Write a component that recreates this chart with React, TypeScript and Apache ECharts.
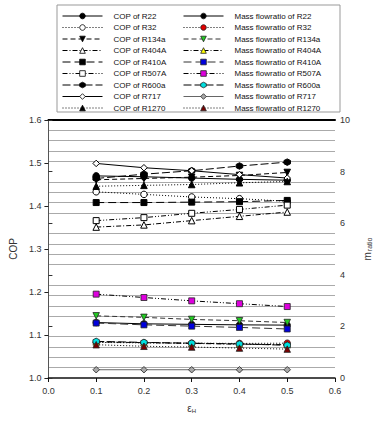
import React, { useEffect, useRef } from "react";
import * as echarts from "echarts";

const epsH = [0.1, 0.2, 0.3, 0.4, 0.5];
const refrigerants = ["R22", "R32", "R134a", "R404A", "R410A", "R507A", "R600a", "R717", "R1270"];

const copR22 = [1.47, 1.468, 1.465, 1.462, 1.46];
const copR32 = [1.433, 1.427, 1.421, 1.417, 1.411];
const copR134a = [1.461, 1.464, 1.467, 1.471, 1.478];
const copR404A = [1.351, 1.356, 1.366, 1.376, 1.386];
const copR410A = [1.408, 1.408, 1.409, 1.41, 1.413];
const copR507A = [1.366, 1.373, 1.383, 1.392, 1.402];
const copR600a = [1.464, 1.474, 1.482, 1.493, 1.502];
const copR717 = [1.499, 1.489, 1.482, 1.473, 1.465];
const copR1270 = [1.446, 1.448, 1.45, 1.454, 1.457];

const mR22 = [2.15, 2.1, 2.08, 2.06, 2.05];
const mR32 = [1.38, 1.36, 1.35, 1.34, 1.35];
const mR134a = [2.41, 2.35, 2.27, 2.22, 2.15];
const mR404A = [1.4, 1.37, 1.34, 1.31, 1.29];
const mR410A = [2.13, 2.06, 2.01, 1.96, 1.9];
const mR507A = [3.25, 3.12, 2.99, 2.88, 2.77];
const mR600a = [1.42, 1.38, 1.35, 1.32, 1.27];
const mR717 = [0.32, 0.32, 0.32, 0.32, 0.32];
const mR1270 = [1.29, 1.23, 1.2, 1.16, 1.12];

const copTicks = [1.0, 1.1, 1.2, 1.3, 1.4, 1.5, 1.6];
const mTicks = [0, 2, 4, 6, 8, 10];
const xTicks = [0, 0.1, 0.2, 0.3, 0.4, 0.5, 0.6];

const copValues = [copR22, copR32, copR134a, copR404A, copR410A, copR507A, copR600a, copR717, copR1270];
const massValues = [mR22, mR32, mR134a, mR404A, mR410A, mR507A, mR600a, mR717, mR1270];

const DOWN_TRI = "path://M0,0 L10,0 L5,10 Z";
const HEX = "path://M5,0 L9.5,2.5 L9.5,7.5 L5,10 L0.5,7.5 L0.5,2.5 Z";

const symbols = ["circle", "circle", DOWN_TRI, "triangle", "rect", "rect", HEX, "diamond", "triangle"];
const dashes: any[] = ["solid", [1, 2], [5, 3], [5, 2, 1, 2], [8, 4], [5, 2, 1, 2, 1, 2], [8, 3], "solid", [1, 2]];
const copFills = ["#000", "#fff", "#000", "#fff", "#000", "#fff", "#000", "#fff", "#000"];
const massFills = ["#000", "#e00000", "#22cc22", "#ffff00", "#0000dd", "#dd00dd", "#00e0e0", "#a8a8a8", "#7a0000"];
const massLineColors = ["#000", "#000", "#333", "#000", "#333", "#000", "#000", "#666", "#000"];
const symbolSizes = [6.5, 6.5, 6.5, 6.5, 6, 6, 6.5, 6.5, 6.5];

const FONT = "Liberation Sans, Arial, sans-serif";

export default function App() {
  const ref = useRef<HTMLDivElement>(null);
  useEffect(() => {
    if (!ref.current) return;
    const chart = echarts.init(ref.current, undefined, { renderer: "svg" });
    const copNames = refrigerants.map((r) => "COP of " + r);
    const massNames = refrigerants.map((r) => "Mass flowratio of " + r);

    const series: any[] = [];
    refrigerants.forEach((r, i) => {
      series.push({
        name: copNames[i],
        type: "line",
        xAxisIndex: 0,
        yAxisIndex: 0,
        data: epsH.map((x, k) => [x, copValues[i][k]]),
        symbol: symbols[i],
        symbolSize: symbolSizes[i],
        showAllSymbol: true,
        lineStyle: { color: "#000", width: 1, type: dashes[i] },
        itemStyle: { color: copFills[i], borderColor: "#000", borderWidth: 1 },
        z: 3,
      });
    });
    refrigerants.forEach((r, i) => {
      series.push({
        name: massNames[i],
        type: "line",
        xAxisIndex: 0,
        yAxisIndex: 1,
        data: epsH.map((x, k) => [x, massValues[i][k]]),
        symbol: symbols[i],
        symbolSize: symbolSizes[i],
        showAllSymbol: true,
        lineStyle: { color: massLineColors[i], width: 1, type: dashes[i] },
        itemStyle: { color: massFills[i], borderColor: "#222", borderWidth: 0.8 },
        z: 3,
      });
    });

    const legendCommon = {
      orient: "vertical",
      top: 11.5,
      itemWidth: 40,
      itemHeight: 7,
      itemGap: 2.5,
      selectedMode: false,
      padding: 0,
      lineStyle: { width: 1 },
      itemStyle: { borderWidth: 0.8 },
      textStyle: { fontSize: 8, fontFamily: FONT, color: "#111", lineHeight: 9, padding: [0, 0, 0, 6] },
    };

    chart.setOption({
      animation: false,
      backgroundColor: "#fff",
      textStyle: { fontFamily: FONT },
      grid: { left: 39, right: 42, top: 120, bottom: 43, containLabel: false },
      graphic: [
        {
          type: "rect",
          z: 0,
          silent: true,
          shape: { x: 57, y: 5, width: 283, height: 107 },
          style: { fill: "#fff", stroke: "#999", lineWidth: 1 },
        },
      ],
      legend: [
        { ...legendCommon, left: 62, data: copNames },
        { ...legendCommon, left: 183, data: massNames },
      ],
      xAxis: [
        {
          type: "value",
          min: xTicks[0],
          max: xTicks[xTicks.length - 1],
          interval: 0.1,
          position: "bottom",
          axisLine: { show: true, lineStyle: { color: "#111", width: 1.5 } },
          axisTick: { show: true, length: 4, lineStyle: { color: "#111" } },
          axisLabel: { fontSize: 9, color: "#333", margin: 8, formatter: (v: number) => v.toFixed(1) },
          splitLine: { show: false },
          name: "{e|ε}{s|H}",
          nameLocation: "middle",
          nameGap: 24,
          nameTextStyle: {
            rich: {
              e: { fontSize: 10, color: "#333", fontFamily: FONT },
              s: { fontSize: 6, color: "#333", fontFamily: FONT, verticalAlign: "bottom", padding: [6, 0, 0, 0] },
            },
          },
        },
        {
          type: "value",
          min: 0,
          max: 0.6,
          position: "top",
          axisLine: { show: true, lineStyle: { color: "#000", width: 2 } },
          axisTick: { show: false },
          axisLabel: { show: false },
          splitLine: { show: false },
        },
      ],
      yAxis: [
        {
          type: "value",
          min: copTicks[0],
          max: copTicks[copTicks.length - 1],
          interval: 0.1,
          position: "left",
          axisLine: { show: true, lineStyle: { color: "#222", width: 1 } },
          axisTick: { show: true, length: 4, lineStyle: { color: "#222" } },
          axisLabel: { fontSize: 9, color: "#333", margin: 7, formatter: (v: number) => v.toFixed(1) },
          splitLine: { show: false },
          name: "COP",
          nameLocation: "middle",
          nameRotate: 90,
          nameGap: 25,
          nameTextStyle: { fontSize: 10, color: "#333", fontFamily: FONT },
        },
        {
          type: "value",
          min: mTicks[0],
          max: mTicks[mTicks.length - 1],
          interval: 2,
          position: "right",
          axisLine: { show: true, lineStyle: { color: "#555", width: 1 } },
          axisTick: { show: true, length: 4, lineStyle: { color: "#333" } },
          axisLabel: { fontSize: 9, color: "#333", margin: 5 },
          splitLine: { show: false },
          minorTick: { show: false, splitNumber: 5 },
          minorSplitLine: { show: true, lineStyle: { color: "#aaa", width: 1 } },
          name: "{m|m}{s|ratio}",
          nameLocation: "middle",
          nameRotate: 90,
          nameGap: 26,
          nameTextStyle: {
            rich: {
              m: { fontSize: 10, color: "#333", fontFamily: FONT },
              s: { fontSize: 7, color: "#333", fontFamily: FONT, padding: [5, 0, 0, 1] },
            },
          },
        },
      ],
      series,
    });
    return () => chart.dispose();
  }, []);
  return <div ref={ref} style={{ position: "absolute", left: 0, top: 0, width: 381, height: 421 }} />;
}
